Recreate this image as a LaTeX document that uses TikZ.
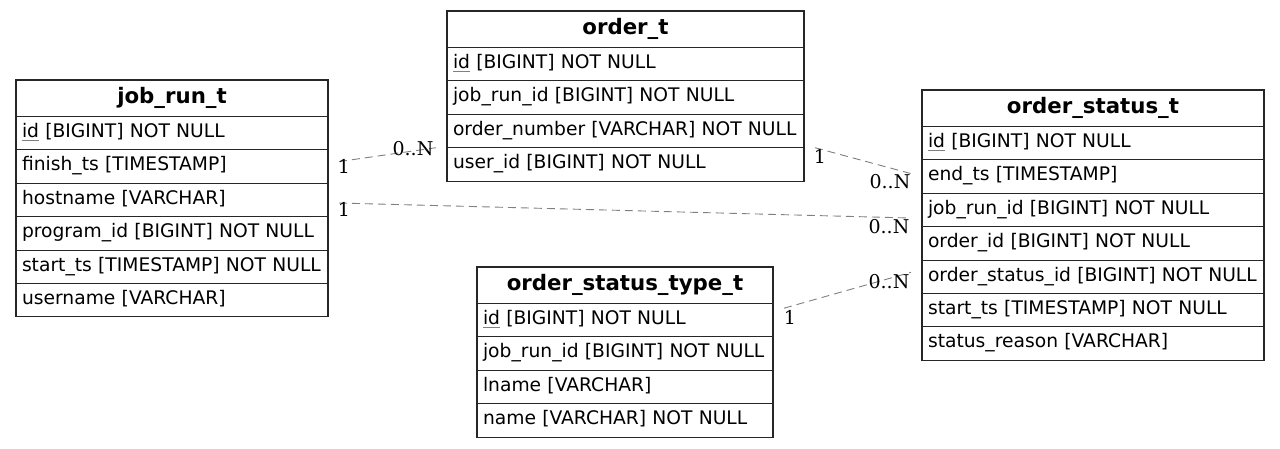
\documentclass[tikz,border=0pt]{standalone}
\usepackage{fontspec}
\setmainfont{DejaVu Sans}
\newfontfamily\cardfont{DejaVu Serif}
\usepackage{tikz}

\newcommand{\pkey}[1]{\setbox0=\hbox{#1}\rlap{\color{gray}\rule[-3pt]{\wd0}{0.9pt}}\box0\relax}

\begin{document}
\begin{tikzpicture}[x=1pt, y=-1pt,
    font=\fontsize{18.7}{22}\selectfont,
    tblhead/.style={draw=black!85, line width=1.1pt, outer sep=0pt, anchor=north west,
      minimum width=#1, minimum height=36.5pt, inner ysep=0pt,
      text height=15pt, text depth=5pt, font=\fontsize{21.3}{24}\selectfont\bfseries},
    field/.style={draw=black!85, line width=1.1pt, outer sep=0pt, anchor=north west,
      text width=#1, inner xsep=6pt, inner ysep=0pt, align=left,
      minimum height=33.4pt, text height=14pt, text depth=5.5pt},
    rel/.style={draw=gray, line width=0.9pt, dash pattern=on 8pt off 5pt},
    card/.style={inner sep=0pt, font=\fontsize{19}{22}\cardfont}]
  \useasboundingbox[fill=white] (0,0) rectangle (1280,448);

  % job_run_t
  \node[tblhead=312pt] (jr0) at (16,80) {job\_run\_t};
  \node[field=300pt] (jr1) at (jr0.south west) {\pkey{id} [BIGINT] NOT NULL};
  \node[field=300pt] (jr2) at (jr1.south west) {finish\_ts [TIMESTAMP]};
  \node[field=300pt] (jr3) at (jr2.south west) {hostname [VARCHAR]};
  \node[field=300pt] (jr4) at (jr3.south west) {program\_id [BIGINT] NOT NULL};
  \node[field=300pt] (jr5) at (jr4.south west) {start\_ts [TIMESTAMP] NOT NULL};
  \node[field=300pt] (jr6) at (jr5.south west) {username [VARCHAR]};

  % order_t
  \node[tblhead=357pt] (ot0) at (447,11) {order\_t};
  \node[field=345pt] (ot1) at (ot0.south west) {\pkey{id} [BIGINT] NOT NULL};
  \node[field=345pt] (ot2) at (ot1.south west) {job\_run\_id [BIGINT] NOT NULL};
  \node[field=345pt] (ot3) at (ot2.south west) {order\_number [VARCHAR] NOT NULL};
  \node[field=345pt] (ot4) at (ot3.south west) {user\_id [BIGINT] NOT NULL};

  % order_status_type_t
  \node[tblhead=296pt] (st0) at (477,267) {order\_status\_type\_t};
  \node[field=284pt] (st1) at (st0.south west) {\pkey{id} [BIGINT] NOT NULL};
  \node[field=284pt] (st2) at (st1.south west) {job\_run\_id [BIGINT] NOT NULL};
  \node[field=284pt] (st3) at (st2.south west) {lname [VARCHAR]};
  \node[field=284pt] (st4) at (st3.south west) {name [VARCHAR] NOT NULL};

  % order_status_t
  \node[tblhead=342pt] (os0) at (922,90) {order\_status\_t};
  \node[field=330pt] (os1) at (os0.south west) {\pkey{id} [BIGINT] NOT NULL};
  \node[field=330pt] (os2) at (os1.south west) {end\_ts [TIMESTAMP]};
  \node[field=330pt] (os3) at (os2.south west) {job\_run\_id [BIGINT] NOT NULL};
  \node[field=330pt] (os4) at (os3.south west) {order\_id [BIGINT] NOT NULL};
  \node[field=330pt] (os5) at (os4.south west) {order\_status\_id [BIGINT] NOT NULL};
  \node[field=330pt] (os6) at (os5.south west) {start\_ts [TIMESTAMP] NOT NULL};
  \node[field=330pt] (os7) at (os6.south west) {status\_reason [VARCHAR]};

  % relations
  \draw[rel] ([shift={(11,-5)}]jr2.east) -- ([shift={(-11,0)}]ot3.south west)
    node[card, at start, xshift=5pt, yshift=-5pt] {1}
    node[card, at end, xshift=-23pt, yshift=-1pt] {0..N};
  \draw[rel] ([shift={(11,3)}]jr3.east) -- ([shift={(-12,8)}]os3.west)
    node[card, at start, xshift=5pt, yshift=-6.5pt] {1}
    node[card, at end, xshift=-21pt, yshift=-8.5pt] {0..N};
  \draw[rel] ([shift={(11,0)}]ot3.south east) -- ([shift={(-11,-3)}]os2.west)
    node[card, at start, xshift=5pt, yshift=-9pt] {1}
    node[card, at end, xshift=-21pt, yshift=-8pt] {0..N};
  \draw[rel] ([shift={(11,-12)}]st1.east) -- ([shift={(-11,-4.5)}]os5.west)
    node[card, at start, xshift=6pt, yshift=-9pt] {1}
    node[card, at end, xshift=-22pt, yshift=-9pt] {0..N};
\end{tikzpicture}
\end{document}
